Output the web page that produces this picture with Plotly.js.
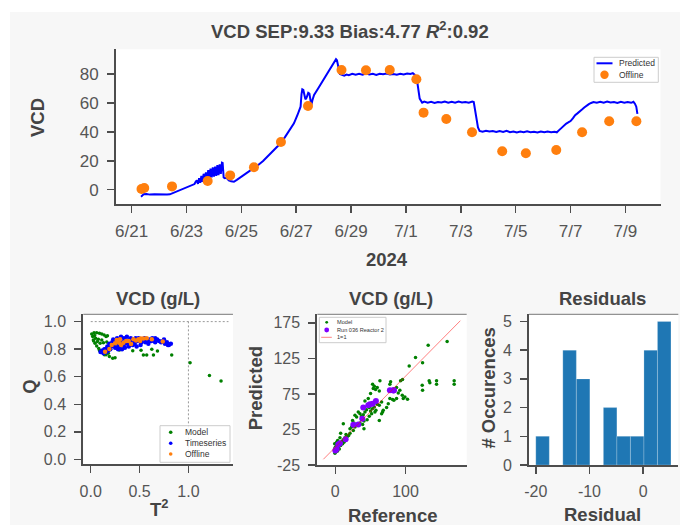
<!DOCTYPE html>
<html>
<head>
<meta charset="utf-8">
<script src="https://cdn.plot.ly/plotly-3.0.1.min.js"></script>
<style>
  html, body { margin: 0; padding: 0; background: #ffffff; }
  #chart { position: absolute; left: 10px; top: 12px; width: 670px; height: 513px; }
</style>
</head>
<body>
<div id="chart"></div>
<script>
// ---- Time series: predicted VCD (hours after 2024-06-21 00:00) ----
const predHours = [8.2, 10.5, 13, 16, 20, 24, 28, 31, 33.4, 36, 40, 44, 48, 52, 55,
  56, 57, 58, 59, 60, 61, 62, 63, 64, 65, 66, 67, 68, 69, 70, 71, 72, 73, 74, 75, 76, 77, 78, 79, 79.6,
  80.5, 81.5, 83, 85, 87, 89.5, 92, 95, 98, 101, 104, 107, 111, 115, 119, 123, 127, 130.3, 134, 138, 142, 145, 147.8,
  148.6, 149.3, 150.2, 151.2, 152, 153, 154.5, 155.5, 156.5, 157.2, 158.2, 159.6, 163, 167, 171, 175, 176.9,
  178.8, 179.6, 180.5, 181.4, 182.2, 184, 186, 188, 190, 193, 196, 199, 202, 205, 208, 211, 214, 217, 220, 223,
  226, 229, 232, 235, 238, 241, 244, 246, 247.5, 249.8, 250.6, 252, 254.2,
  256, 259, 262, 265, 268, 271, 274, 277, 280, 283, 286, 289, 292, 295, 298, 299.3, 300.5, 301.7, 303, 304.4,
  307, 310, 313, 316, 319, 322, 325, 328, 331, 334, 337, 340, 343, 346, 349, 352, 355, 358, 361, 364, 367, 370, 372,
  374, 376, 378, 380, 382, 384, 386, 388, 390, 392.4, 394, 396, 398, 400, 402, 404,
  407, 410, 413, 416, 419, 422, 425, 428, 431, 434, 437, 439, 440.3, 441.5, 442.5];
const predVCD = [-4.8, -3.2, -3.0, -3.4, -3.1, -3.3, -3.0, -3.4, -3.2, -2.3, -1.0, 0.3, 1.6, 2.9, 3.9,
  5.5, 6.5, 4.0, 8.0, 4.8, 9.5, 5.5, 11.0, 6.5, 12.0, 7.0, 13.5, 7.5, 14.5, 8.5, 15.5, 9.0, 16.0, 9.5, 17.0, 10.0, 17.5, 11.0, 18.7, 18.5,
  8.5, 7.9, 8.2, 6.5, 5.8, 5.5, 6.8, 8.4, 10.0, 11.6, 13.2, 14.8, 17.2, 19.8, 22.9, 26.3, 29.6, 32.1, 36.2, 40.8, 45.9, 51.5, 57.4,
  66.0, 69.4, 69.0, 64.5, 62.5, 63.5, 67.0, 66.5, 60.0, 58.6, 62.0, 65.5, 69.8, 74.9, 80.0, 85.0, 87.4,
  90.2, 89.5, 86.2, 82.0, 80.0, 79.4, 78.9, 79.6, 79.2, 80.1, 79.5, 80.2, 79.6, 80.3, 79.7, 80.1, 79.4, 80.2, 79.8, 80.3,
  79.6, 80.0, 79.5, 80.2, 79.7, 80.4, 80.0, 80.6, 79.6, 75.0, 69.0, 63.0, 60.2,
  60.9, 60.2, 60.8, 60.0, 60.7, 60.3, 61.0, 60.2, 60.8, 60.1, 60.9, 60.3, 60.7, 60.2, 61.0, 60.6, 55.0, 48.2, 43.0, 40.6,
  40.1, 40.8, 40.2, 40.6, 39.9, 40.5, 40.0, 40.7, 39.8, 40.3, 39.6, 40.2, 39.7, 40.4, 39.8, 40.1, 39.6, 40.3, 39.7, 40.2, 39.8, 40.1, 39.7,
  41.2, 42.8, 44.3, 45.6, 46.5, 47.5, 49.4, 51.6, 52.8, 54.0, 55.4, 56.8, 58.2, 59.2, 60.0, 60.6,
  60.1, 60.8, 60.2, 60.9, 60.3, 60.7, 60.0, 60.8, 60.2, 60.6, 60.1, 60.8, 59.5, 57.4, 52.4];

// ---- Offline (reference) samples ----
const offlineHours = [8.6, 11.0, 35.3, 66.5, 86.2, 107.0, 130.6, 154.3, 183.6, 205.0, 225.8,
  249.1, 255.4, 275.3, 297.8, 324.2, 344.9, 371.5, 394.1, 417.8, 441.6];
const offlineVCD = [0.5, 1.2, 2.3, 6.0, 9.9, 15.5, 33.0, 57.9, 82.8, 82.6, 82.8,
  76.4, 53.3, 48.9, 39.7, 26.6, 25.2, 27.5, 39.7, 47.3, 47.3];

// ---- Hotelling T² vs Q ----
const t2Model = [0.010, 0.034, 0.061, 0.089, 0.113, 0.137, 0.157,
  0.020, 0.027, 0.044, 0.061, 0.082, 0.106, 0.130, 0.157, 0.191, 0.225, 0.249,
  0.078, 0.068, 0.096, 0.130, 0.164, 0.113,
  0.171, 0.249, 0.294, 0.430, 0.515, 0.625, 0.683, 0.539, 0.573, 0.642, 0.829, 1.017, 1.215, 1.334,
  0.20, 0.26, 0.31, 0.18, 0.14, 0.05, 0.04, 0.09, 0.12, 0.03];
const qModel = [0.910, 0.920, 0.920, 0.915, 0.910, 0.903, 0.891,
  0.891, 0.867, 0.843, 0.823, 0.804, 0.789, 0.775, 0.760, 0.746, 0.734, 0.738,
  0.872, 0.855, 0.843, 0.847, 0.852, 0.867,
  0.898, 0.823, 0.794, 0.789, 0.792, 0.799, 0.787, 0.758, 0.758, 0.758, 0.758, 0.702, 0.608, 0.569,
  0.80, 0.81, 0.80, 0.77, 0.76, 0.88, 0.90, 0.79, 0.78, 0.86];
const t2Series = [0.10, 0.12, 0.14, 0.13, 0.16, 0.18, 0.20, 0.17, 0.19, 0.22, 0.21, 0.24, 0.23, 0.26, 0.25,
  0.28, 0.27, 0.30, 0.29, 0.32, 0.31, 0.34, 0.33, 0.36, 0.35, 0.38, 0.37, 0.40, 0.39, 0.42, 0.41, 0.44,
  0.43, 0.46, 0.45, 0.48, 0.47, 0.50, 0.52, 0.51, 0.54, 0.56, 0.55, 0.58, 0.60, 0.59, 0.62, 0.64, 0.66,
  0.68, 0.70, 0.72, 0.74, 0.76, 0.78, 0.80, 0.82, 0.79, 0.75, 0.66, 0.28, 0.32, 0.15, 0.18, 0.35, 0.49, 0.63];
const qSeries = [0.78, 0.79, 0.80, 0.77, 0.78, 0.79, 0.80, 0.82, 0.84, 0.85, 0.82, 0.83, 0.87, 0.86, 0.81,
  0.84, 0.88, 0.87, 0.82, 0.85, 0.89, 0.88, 0.83, 0.86, 0.81, 0.84, 0.89, 0.87, 0.82, 0.85, 0.88, 0.86,
  0.83, 0.88, 0.84, 0.86, 0.82, 0.87, 0.85, 0.83, 0.87, 0.85, 0.88, 0.86, 0.87, 0.84, 0.86, 0.87, 0.85,
  0.87, 0.86, 0.85, 0.86, 0.84, 0.85, 0.83, 0.84, 0.83, 0.87, 0.88, 0.80, 0.80, 0.80, 0.81, 0.84, 0.88, 0.88];
const t2Offline = [0.147, 0.191, 0.266, 0.290, 0.311, 0.334, 0.362, 0.389, 0.413, 0.437, 0.464,
  0.488, 0.512, 0.539, 0.573, 0.625, 0.737, 0.249, 0.215, 0.300, 0.505];
const qOffline = [0.782, 0.801, 0.867, 0.847, 0.831, 0.847, 0.860, 0.860, 0.838, 0.872, 0.862,
  0.872, 0.877, 0.877, 0.879, 0.872, 0.855, 0.843, 0.831, 0.872, 0.860];
const t2Limit = 1.0;
const qLimit = 1.0;
const t2LimitSpan = [0, 1.41];
const qLimitSpan = [0, 1.0];

// ---- Predicted vs reference ----
const refModel = [159.2, 132.2, 114.2, 124.2, 105.2, 123.7, 124.2, 133.6, 134.6, 144.1, 144.1, 169.2, 169.2, 95.7, 92.9,
  80.1, 87.2, 89.6, 91.9, 95.3, 96.7, 99.1, 102.8, 87.2, 83.4, 81.5, 77.7, 75.4, 73.0, 68.2, 65.9, 62.6, 78.7, 77.7,
  54.0, 55.5, 57.3, 59.7, 62.6, 63.5, 53.1, 50.2, 46.9, 42.2,
  42.2, 44.5, 48.3, 50.2, 52.8, 55.5, 57.8, 59.7, 62.6, 65.9, 35.1, 37.4, 39.8, 32.7, 30.3, 28.0, 26.5, 23.2, 20.9, 24.6,
  11.4, 7.6, 15.2, 17.1, 13.7, 11.4, 9.5, 6.6, 4.3, 1.9, 0.0, -0.9, 0.9, -0.5, 2.8, 5.7, 4.7, 7.6, 10.4, 12.3,
  19.0, 20.9, 25.6, 28.0, 35.1, 38.9, 40.8, 45.3, 48.3, 51.7, 56.4, 67.3, 40.8, 6.6, 1.9, -0.9, 3.3];
const predModel = [148.6, 143.4, 126.4, 118.9, 114.2, 87.3, 80.2, 93.4, 90.6, 93.4, 88.7, 93.4, 88.7, 95.3, 93.4,
  79.2, 84.0, 76.4, 80.2, 73.1, 68.4, 70.8, 67.5, 68.4, 66.0, 67.0, 68.4, 61.3, 55.7, 51.9, 47.2, 37.7, 92.0, 88.7,
  82.5, 85.8, 81.1, 84.0, 79.2, 93.4, 88.7, 75.5, 68.4, 65.1,
  49.5, 52.8, 55.7, 50.9, 54.2, 56.6, 51.9, 60.4, 59.0, 63.7, 47.2, 43.4, 45.8, 49.5, 42.5, 44.8, 34.0, 28.3, 25.9, 37.7,
  33.0, 19.8, 17.9, 15.1, 13.2, 10.4, 8.5, 5.7, 3.8, 2.4, 0.0, -2.4, -4.7, -8.5, -5.7, -2.4, 0.9, 2.4, 4.7, 7.1,
  16.5, 19.8, 23.6, 28.3, 34.0, 32.1, 36.8, 38.7, 43.4, 47.2, 49.5, 49.5, 25.9, 13.2, 7.1, 4.7, 9.4];
const refRun = [0.0, 1.9, 4.3, 6.6, 14.7, 25.6, 32.7, 38.4, 39.8, 46.9, 49.3, 53.1, 57.8, 77.7, 83.4, 82.6, 82.8];
const predRun = [-4.7, -2.4, 3.8, 5.7, 11.3, 31.6, 32.1, 40.1, 55.7, 59.0, 60.4, 61.3, 65.1, 80.2, 80.2, 79.8, 80.3];
const identitySpan = [-17, 178];

// ---- Residuals ----
const residuals = [-19.0, -14.3, -13.9, -13.4, -12.9, -12.0, -11.3, -10.6, -6.7, -5.6, -3.6, -0.8,
  0.8, 1.3, 1.9, 2.3, 3.2, 3.7, 4.1, 4.6, 5.0];
const residualBins = { start: -20, end: 5.2, size: 2.52 };

// ---- colours ----
const BLUE_LINE = '#0000ff';
const ORANGE = '#ff7f0e';
const GREEN = '#008000';
const PURPLE = '#8000ff';
const IDENTITY_RED = 'rgba(255,0,0,0.5)';

// ---- helpers ----
function hoursToDate(h) {
  const d = new Date(Date.UTC(2024, 5, 21) + Math.round(h * 3600000));
  const p = n => String(n).padStart(2, '0');
  return d.getUTCFullYear() + '-' + p(d.getUTCMonth() + 1) + '-' + p(d.getUTCDate()) + ' ' +
    p(d.getUTCHours()) + ':' + p(d.getUTCMinutes()) + ':' + p(d.getUTCSeconds());
}

const W = 670, H = 513, OX = 10, OY = 12;      // figure size and its offset in the page
const px = x => (x - OX) / W;                   // page pixel -> paper fraction
const py = y => 1 - (y - OY) / H;

const FONT = 'Liberation Sans, Arial, sans-serif';
const AXIS_COLOR = '#4d4d4d';
const TICK_COLOR = '#555555';
const LABEL_COLOR = '#444444';

function axis(extra, size) {
  return Object.assign({
    showline: true, linecolor: AXIS_COLOR, linewidth: 2,
    ticks: 'outside', ticklen: 7, tickwidth: 1.5, tickcolor: AXIS_COLOR,
    showgrid: false, zeroline: false, fixedrange: true,
    tickfont: { family: FONT, size: size || 16, color: TICK_COLOR }
  }, extra);
}

const traces = [
  // top: time series
  { type: 'scatter', mode: 'lines', name: 'Predicted', x: predHours.map(hoursToDate), y: predVCD,
    xaxis: 'x', yaxis: 'y', line: { color: BLUE_LINE, width: 2 } },
  { type: 'scatter', mode: 'markers', name: 'Offline', x: offlineHours.map(hoursToDate), y: offlineVCD,
    xaxis: 'x', yaxis: 'y', marker: { color: ORANGE, size: 10 } },

  // bottom-left: T² vs Q with limits
  { type: 'scatter', mode: 'lines', x: t2LimitSpan, y: [qLimit, qLimit], xaxis: 'x2', yaxis: 'y2',
    line: { color: '#999999', width: 1, dash: '2px,2px' } },
  { type: 'scatter', mode: 'lines', x: [t2Limit, t2Limit], y: qLimitSpan, xaxis: 'x2', yaxis: 'y2',
    line: { color: '#999999', width: 1, dash: '2px,2px' } },
  { type: 'scatter', mode: 'markers', name: 'Model', x: t2Model, y: qModel, xaxis: 'x2', yaxis: 'y2',
    marker: { color: GREEN, size: 3.5 } },
  { type: 'scatter', mode: 'markers', name: 'Timeseries', x: t2Series, y: qSeries, xaxis: 'x2', yaxis: 'y2',
    marker: { color: '#0000ff', size: 4.5 } },
  { type: 'scatter', mode: 'markers', name: 'Offline', x: t2Offline, y: qOffline, xaxis: 'x2', yaxis: 'y2',
    marker: { color: ORANGE, size: 4.5 } },

  // bottom-middle: predicted vs reference
  { type: 'scatter', mode: 'markers', name: 'Model', x: refModel, y: predModel, xaxis: 'x3', yaxis: 'y3',
    marker: { color: GREEN, size: 3.5 } },
  { type: 'scatter', mode: 'markers', name: 'Run 036 Reactor 2', x: refRun, y: predRun, xaxis: 'x3', yaxis: 'y3',
    marker: { color: PURPLE, size: 6 } },
  { type: 'scatter', mode: 'lines', name: '1=1', x: identitySpan, y: identitySpan, xaxis: 'x3', yaxis: 'y3',
    line: { color: IDENTITY_RED, width: 1 } },

  // bottom-right: residual histogram
  { type: 'histogram', x: residuals, xbins: residualBins, autobinx: false, xaxis: 'x4', yaxis: 'y4',
    marker: { color: '#1f77b4', line: { color: 'rgba(255,255,255,0.35)', width: 0.6 } } }
];

function label(text, x, y, angle) {
  return { text: text, x: x, y: y, xref: 'paper', yref: 'paper', showarrow: false,
    xanchor: 'center', yanchor: 'middle', textangle: angle || 0,
    font: { family: FONT, size: 18.5, color: LABEL_COLOR, weight: 'bold' } };
}

function topBorder(xa, ya) {
  return { type: 'line', xref: xa + ' domain', yref: ya + ' domain', x0: 0, x1: 1, y0: 1, y1: 1,
    line: { color: '#777777', width: 1 } };
}

// Compact legend boxes: frame, swatches and entry texts (page pixel positions).
const shapes = [topBorder('x2', 'y2'), topBorder('x3', 'y3'), topBorder('x4', 'y4')];
const annotations = [];

function legendBox(x0, y0, x1, y1) {
  shapes.push({ type: 'rect', xref: 'paper', yref: 'paper', x0: px(x0), x1: px(x1), y0: py(y1), y1: py(y0),
    fillcolor: 'rgba(255,255,255,0.85)', line: { color: '#cccccc', width: 1 } });
}
function legendDot(cx, cy, r, color) {
  shapes.push({ type: 'circle', xref: 'paper', yref: 'paper', x0: px(cx - r), x1: px(cx + r),
    y0: py(cy + r), y1: py(cy - r), fillcolor: color, line: { width: 0 } });
}
function legendLine(x0, x1, y, color, width) {
  shapes.push({ type: 'line', xref: 'paper', yref: 'paper', x0: px(x0), x1: px(x1), y0: py(y), y1: py(y),
    line: { color: color, width: width } });
}
function legendText(text, x, y, size) {
  annotations.push({ text: text, x: px(x), y: py(y), xref: 'paper', yref: 'paper', showarrow: false,
    xanchor: 'left', yanchor: 'middle', borderpad: 0,
    font: { family: FONT, size: size, color: '#333333' } });
}

// time-series legend
legendBox(594, 57.3, 658.3, 82.3);
legendLine(596.5, 612.5, 63.3, BLUE_LINE, 2);
legendDot(604.5, 74.7, 4.2, ORANGE);
legendText('Predicted', 618, 63.3, 8.5);
legendText('Offline', 618, 74.7, 8.5);

// T² / Q legend
legendBox(160, 425.7, 230, 462.3);
legendDot(170.7, 432.3, 1.8, GREEN);
legendDot(170.7, 443.3, 1.8, '#0000ff');
legendDot(170.7, 454.0, 1.8, ORANGE);
legendText('Model', 183.5, 432.3, 8.5);
legendText('Timeseries', 183.5, 443.3, 8.5);
legendText('Offline', 183.5, 454.0, 8.5);

// predicted-vs-reference legend
legendBox(319.3, 317.3, 386, 342.7);
legendDot(326.7, 322.3, 1.4, GREEN);
legendDot(326.7, 330.0, 2.4, PURPLE);
legendLine(321.2, 331.8, 337.3, IDENTITY_RED, 1);
legendText('Model', 335.5, 322.3, 5.6);
legendText('Run 036 Reactor 2', 335.5, 330.0, 5.6);
legendText('1=1', 335.5, 337.3, 5.6);

annotations.push(
  label('VCD SEP:9.33 Bias:4.77 <i>R</i><sup>2</sup>:0.92', 0.5075, 0.9649),
  label('VCD', 0.0422, 0.7938, -90),
  label('2024', 0.5627, 0.5185),
  label('VCD (g/L)', 0.2216, 0.4409),
  label('VCD (g/L)', 0.5690, 0.4409),
  label('Residuals', 0.8848, 0.4409),
  label('Q', 0.0299, 0.2696, -90),
  label('T<sup>2</sup>', 0.2228, 0.0331),
  label('Predicted', 0.3657, 0.2665, -90),
  label('Reference', 0.5704, 0.0179),
  label('# Occurences', 0.7139, 0.2665, -90),
  label('Residual', 0.8848, 0.0199)
);

const layout = {
  width: W, height: H,
  margin: { l: 0, r: 0, t: 0, b: 0 },
  paper_bgcolor: '#f7f7f7',
  plot_bgcolor: '#ffffff',
  font: { family: FONT, color: TICK_COLOR },
  showlegend: false,
  hovermode: false,
  bargap: 0,
  xaxis: axis({ domain: [0.1582, 0.9709], anchor: 'y', type: 'date',
    range: [hoursToDate(-13.7), hoursToDate(462.7)],
    tick0: '2024-06-21', dtick: 172800000, tickformat: '%-m/%-d', ticklabelstandoff: 4 }, 17),
  yaxis: axis({ domain: [0.6257, 0.9273], anchor: 'x', range: [-9.9, 97.1],
    tickvals: [0, 20, 40, 60, 80], ticklabelstandoff: 5 }, 17),

  xaxis2: axis({ domain: [0.1094, 0.3328], anchor: 'y2', range: [-0.076, 1.456],
    tickvals: [0, 0.5, 1.0], ticktext: ['0.0', '0.5', '1.0'], ticklabelstandoff: 4 }),
  yaxis2: axis({ domain: [0.1183, 0.4107], anchor: 'x2', range: [-0.036, 1.053],
    tickvals: [0, 0.2, 0.4, 0.6, 0.8, 1.0], ticktext: ['0.0', '0.2', '0.4', '0.6', '0.8', '1.0'], ticklabelstandoff: 5 }),

  xaxis3: axis({ domain: [0.4587, 0.6816], anchor: 'y3', range: [-25.6, 187],
    tickvals: [0, 100], ticktext: ['0', '100'], ticklabelstandoff: 4 }),
  yaxis3: axis({ domain: [0.1170, 0.4107], anchor: 'x3', range: [-25, 187],
    tickvals: [-25, 25, 75, 125, 175], ticktext: ['-25', '25', '75', '125', '175'], ticklabelstandoff: 5 }),

  xaxis4: axis({ domain: [0.7746, 0.9975], anchor: 'y4', range: [-21.27, 6.57],
    tickvals: [-20, -10, 0], ticktext: ['-20', '-10', '0'], ticklabelstandoff: 4 }),
  yaxis4: axis({ domain: [0.1170, 0.4107], anchor: 'x4', range: [0, 5.25],
    tickvals: [0, 1, 2, 3, 4, 5], ticklabelstandoff: 5 }),

  shapes: shapes,
  annotations: annotations
};

Plotly.newPlot('chart', traces, layout, { displayModeBar: false, staticPlot: true });
</script>
</body>
</html>
